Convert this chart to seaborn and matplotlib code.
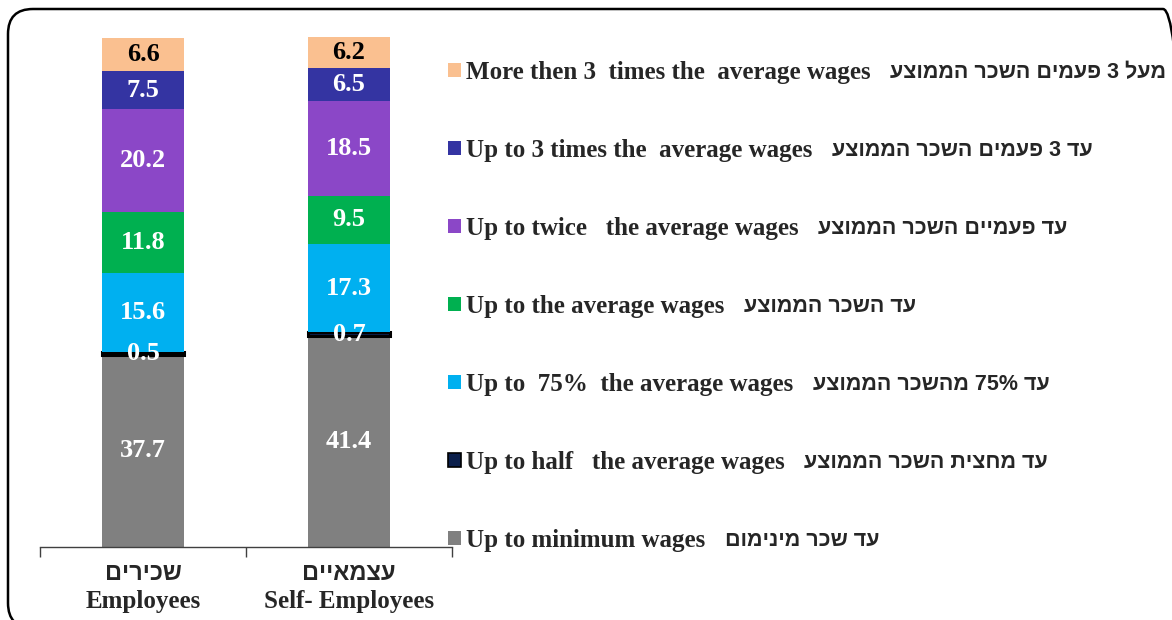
import numpy as np
import pandas as pd
import matplotlib
matplotlib.use("Agg")
import matplotlib.pyplot as plt
from matplotlib.patches import Patch, FancyBboxPatch
from matplotlib.transforms import IdentityTransform
import seaborn as sns

# data (bottom of the stack first)
categories_he = ["שכירים", "עצמאיים"]
categories_en = ["Employees", "Self- Employees"]
levels_en = [
    "Up to minimum wages",
    "Up to half   the average wages",
    "Up to  75%  the average wages",
    "Up to the average wages",
    "Up to twice   the average wages",
    "Up to 3 times the  average wages",
    "More then 3  times the  average wages",
]
levels_he = [
    "עד שכר מינימום",
    "עד מחצית השכר הממוצע",
    "עד 75% מהשכר הממוצע",
    "עד השכר הממוצע",
    "עד פעמיים השכר הממוצע",
    "עד 3 פעמים השכר הממוצע",
    "מעל 3 פעמים השכר הממוצע",
]
employees = [37.7, 0.5, 15.6, 11.8, 20.2, 7.5, 6.6]
self_employed = [41.4, 0.7, 17.3, 9.5, 18.5, 6.5, 6.2]

colors = ["#808080", "#0B1F4B", "#00B0F0", "#00B050", "#8B47C7", "#3434A2", "#FAC090"]
label_colors = ["white"] * 6 + ["black"]

SERIF = ["Liberation Serif", "DejaVu Serif"]
SANS = ["Liberation Sans", "DejaVu Sans"]


def visual(s):
    # matplotlib has no bidi: put Hebrew into visual order by hand
    out = []
    for tok in s.split(" ")[::-1]:
        if any("\u0590" <= ch <= "\u05ff" for ch in tok):
            tok = tok[::-1]
        out.append(tok)
    return " ".join(out)


rows = []
for cat, vals in zip(categories_en, [employees, self_employed]):
    bottom = 0.0
    for lvl, v in zip(levels_en, vals):
        rows.append({"category": cat, "level": lvl, "value": v, "bottom": bottom})
        bottom += v
df = pd.DataFrame(rows)

sns.set_style("white")
plt.rcParams["font.family"] = SERIF

W, H = 1172, 620
fig = plt.figure(figsize=(W / 100, H / 100), dpi=100)
ax = fig.add_axes([40 / W, 1 - 547 / H, 412 / W, 510 / H])

for i, lvl in enumerate(levels_en):
    sub = df[df.level == lvl].set_index("category").loc[categories_en].reset_index()
    edge = "black" if i == 1 else "none"
    lw = 2.2 if i == 1 else 0
    sns.barplot(data=sub, x="category", y="value", order=categories_en,
                color=colors[i], saturation=1, width=0.4,
                bottom=sub["bottom"].to_numpy(), edgecolor=edge, linewidth=lw, ax=ax)

# value labels
for _, r in df.iterrows():
    i = levels_en.index(r["level"])
    x = categories_en.index(r["category"])
    ax.text(x, r["bottom"] + r["value"] / 2, f"{r['value']:.1f}", ha="center", va="center",
            fontsize=19, fontweight="bold", color=label_colors[i], family=SERIF)

ax.set_xlim(-0.5, 1.5)
ax.set_ylim(0, 100)
ax.set_xlabel("")
ax.set_ylabel("")
ax.set_yticks([])
ax.set_xticks([])
ax.set_xticks([-0.5, 0.5, 1.5], minor=True)
ax.tick_params(axis="x", which="minor", bottom=True, length=7, width=1,
               color="#404040", direction="out")
for s in ["left", "top", "right"]:
    ax.spines[s].set_visible(False)
ax.spines["bottom"].set_color("#404040")
ax.spines["bottom"].set_linewidth(1)

for x, (he, en) in enumerate(zip(categories_he, categories_en)):
    ax.text(x, -0.051, visual(he), transform=ax.get_xaxis_transform(), ha="center", va="center",
            fontsize=17, fontweight="bold", family=SANS)
    ax.text(x, -0.106, en, transform=ax.get_xaxis_transform(), ha="center", va="center",
            fontsize=18, fontweight="bold", family=SERIF)

# legend (top row = top of stack)
handles = [Patch(facecolor=colors[i], edgecolor="black" if i == 1 else colors[i],
                 linewidth=1.2 if i == 1 else 0) for i in range(len(levels_en))][::-1]
leg = fig.legend(handles, levels_en[::-1], loc="upper left",
                 bbox_to_anchor=(448 / W, 1 - 61 / H), frameon=False,
                 prop={"family": SERIF, "weight": "bold", "size": 18},
                 handlelength=0.5, handleheight=0.5, handletextpad=0.2,
                 labelspacing=2.2, borderpad=0, borderaxespad=0)

fig.canvas.draw()
renderer = fig.canvas.get_renderer()
for t, he in zip(leg.get_texts(), levels_he[::-1]):
    bb = t.get_window_extent(renderer)
    fig.text((bb.x1 + 20) / W, (bb.y0 + bb.y1) / 2 / H, visual(he), ha="left", va="center",
             fontsize=15.5, fontweight="bold", family=SANS)

# rounded frame, running off the right and bottom edges
frame = FancyBboxPatch((8, -8), 1180, 619, boxstyle="round,pad=0,rounding_size=25",
                       transform=IdentityTransform(), facecolor="none", edgecolor="black",
                       linewidth=1.8, clip_on=False)
fig.patches.append(frame)

fig.savefig("out.png", dpi=100)
